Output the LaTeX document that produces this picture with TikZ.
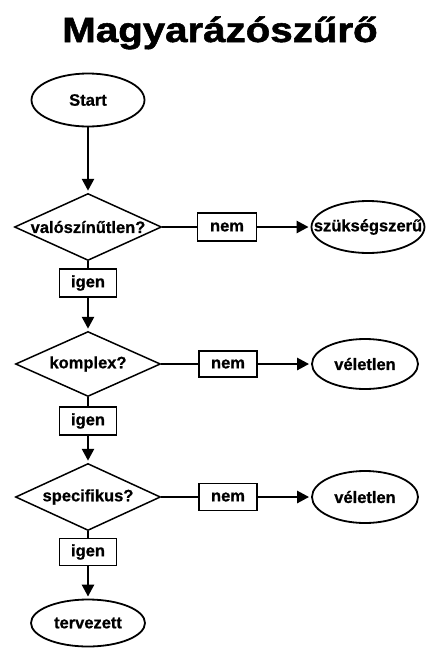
\documentclass[tikz,border=0pt]{standalone}
\usepackage{fontspec}
\setmainfont{Liberation Sans}
\newfontfamily\heavylbl{Liberation Sans Bold}[FakeBold=0.8]
\newfontfamily\heavyttl{Liberation Sans Bold}[FakeBold=1.5]
\usetikzlibrary{shapes.geometric,arrows.meta}
\begin{document}
\begin{tikzpicture}[x=1pt,y=1pt,
  lbl/.style={font=\heavylbl\fontsize{16.5}{18}\selectfont},
  oval/.style={ellipse,draw,line width=1.8pt,inner sep=0pt,lbl},
  dia/.style={diamond,draw,line width=1.5pt,inner sep=0pt,lbl},
  tag/.style={rectangle,draw,line width=1.9pt,inner sep=0pt,minimum width=57pt,minimum height=28pt,lbl},
  conn/.style={line width=2.6pt},
  arr/.style={line width=2.6pt,-{Triangle[length=12pt,width=12pt]},shorten >=2pt}
]
\useasboundingbox (0,0) rectangle (427,-648);
\node[anchor=base,font=\heavyttl\fontsize{35}{40}\selectfont,xscale=1.15] (title) at (220,-42) {Magyarázószűrő};

\node[oval,minimum width=113pt,minimum height=53pt] (start) at (88,-100) {\makebox[0pt]{Start}};

\node[dia,minimum width=147pt,minimum height=67pt] (d1) at (88,-227) {\makebox[0pt]{valószínűtlen?}};
\node[tag,minimum width=59pt] (n1) at (227,-227) {nem};
\node[oval,minimum width=113pt,minimum height=52pt] (e1) at (368,-227) {\makebox[0pt]{szükségszerű}};
\node[tag] (i1) at (88,-283) {igen};

\node[dia,minimum width=145pt,minimum height=65pt] (d2) at (88,-364) {\makebox[0pt]{komplex?}};
\node[tag,minimum width=58pt,minimum height=26pt] (n2) at (228,-364) {nem};
\node[oval,minimum width=106pt,minimum height=50pt] (e2) at (365,-364) {\makebox[0pt]{véletlen}};
\node[tag] (i2) at (88,-421) {igen};

\node[dia,minimum width=145pt,minimum height=67pt] (d3) at (88,-497) {\makebox[0pt]{specifikus?}};
\node[tag,minimum width=58pt,minimum height=27pt] (n3) at (228,-497) {nem};
\node[oval,minimum width=106pt,minimum height=52pt] (e3) at (365,-497) {\makebox[0pt]{véletlen}};
\node[tag,minimum height=27pt] (i3) at (88,-552) {igen};

\node[oval,minimum width=114pt,minimum height=47pt] (e4) at (88,-623) {\makebox[0pt]{tervezett}};

\draw[arr] (start.south) -- (d1.north);
\draw[conn] (d1.east) -- (n1.west);
\draw[arr] (n1.east) -- (e1.west);
\draw[conn] (d1.south) -- (i1.north);
\draw[arr] (i1.south) -- (d2.north);
\draw[conn] (d2.east) -- (n2.west);
\draw[arr] (n2.east) -- (e2.west);
\draw[conn] (d2.south) -- (i2.north);
\draw[arr] (i2.south) -- (d3.north);
\draw[conn] (d3.east) -- (n3.west);
\draw[arr] (n3.east) -- (e3.west);
\draw[conn] (d3.south) -- (i3.north);
\draw[arr] (i3.south) -- (e4.north);
\end{tikzpicture}
\end{document}
